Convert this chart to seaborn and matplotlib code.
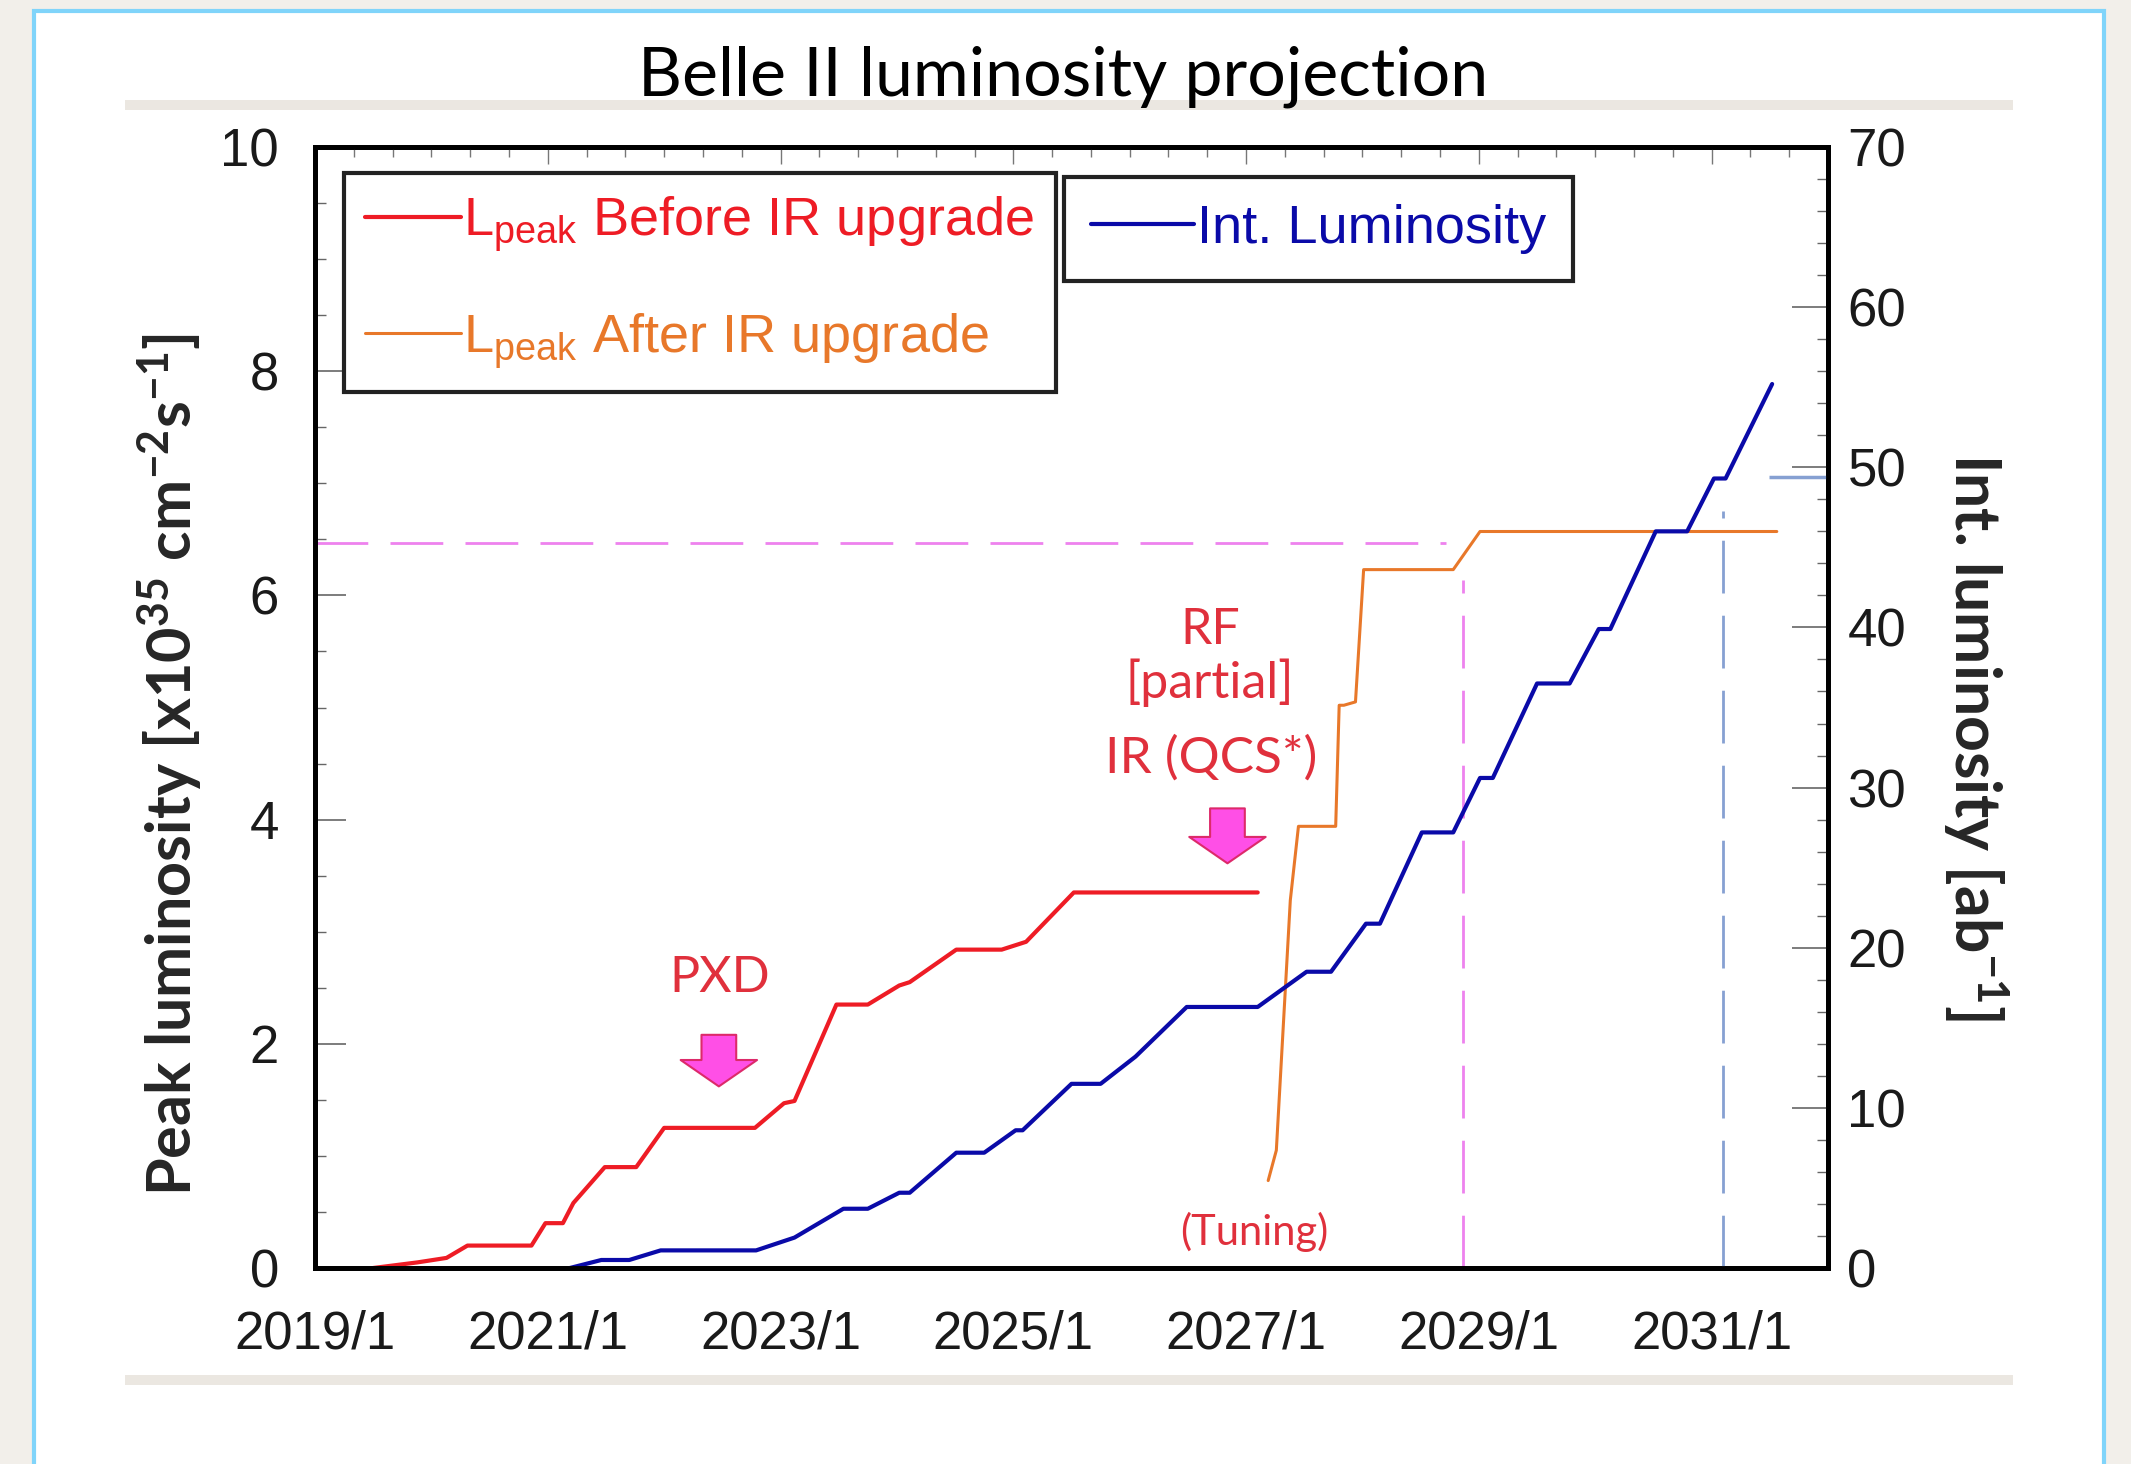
import matplotlib
matplotlib.use('Agg')
import matplotlib.pyplot as plt
import matplotlib.patches as mpatches
from matplotlib import font_manager
from matplotlib.ticker import MultipleLocator
import seaborn as sns

# L_peak before IR upgrade [x10^35 cm^-2 s^-1]
red_year = [2019.50, 2019.88, 2020.13, 2020.31, 2020.86, 2020.98, 2021.13, 2021.22,
            2021.49, 2021.76, 2022.00, 2022.78, 2023.03, 2023.12, 2023.48, 2023.75,
            2024.02, 2024.11, 2024.51, 2024.90, 2025.11, 2025.52, 2027.10]
red_lpeak = [0.00, 0.05, 0.09, 0.20, 0.20, 0.40, 0.40, 0.58,
             0.90, 0.90, 1.25, 1.25, 1.47, 1.49, 2.35, 2.35,
             2.52, 2.55, 2.84, 2.84, 2.91, 3.35, 3.35]

# L_peak after IR upgrade
orange_year = [2027.19, 2027.26, 2027.38, 2027.45, 2027.77, 2027.80, 2027.84,
               2027.94, 2028.01, 2028.78, 2029.01, 2031.56]
orange_lpeak = [0.78, 1.05, 3.28, 3.94, 3.94, 5.02, 5.02,
                5.05, 6.23, 6.23, 6.57, 6.57]

# integrated luminosity [ab^-1] (right axis)
blue_year = [2021.19, 2021.46, 2021.70, 2021.97, 2022.79, 2023.12, 2023.54, 2023.75,
             2024.02, 2024.11, 2024.51, 2024.75, 2025.02, 2025.08, 2025.50, 2025.75,
             2026.05, 2026.49, 2027.10, 2027.52, 2027.73, 2028.03, 2028.15, 2028.51,
             2028.78, 2029.01, 2029.12, 2029.50, 2029.78, 2030.03, 2030.13, 2030.52,
             2030.79, 2031.02, 2031.12, 2031.52]
blue_int = [0.0, 0.5, 0.5, 1.1, 1.1, 1.9, 3.7, 3.7,
            4.7, 4.7, 7.2, 7.2, 8.6, 8.6, 11.5, 11.5,
            13.2, 16.3, 16.3, 18.5, 18.5, 21.5, 21.5, 27.2,
            27.2, 30.6, 30.6, 36.5, 36.5, 39.9, 39.9, 46.0,
            46.0, 49.3, 49.3, 55.2]

# guide lines
pink_level = 6.47        # target peak luminosity
pink_level_end = 2028.72
pink_year = 2028.86
pink_year_top = 6.14
grey_year = 2031.10      # 50 ab^-1 reached
grey_year_top = 47.3
grey_level = 49.4
grey_level_start = 2031.49

# annotations (year, value on left axis)
pxd_text = (2022.48, 2.59)
pxd_arrow = (2022.47, 2.08, 1.62)
ir_arrow = (2026.84, 4.10, 3.61)
rf_text = (2026.69, 5.69)
rf_sub_text = (2026.69, 5.22)
ir_text = (2026.70, 4.55)
tuning_text = (2027.07, 0.32)

x_ticks = [2019, 2021, 2023, 2025, 2027, 2029, 2031]
x_labels = [f'{y}/1' for y in x_ticks]
left_ticks = [0, 2, 4, 6, 8, 10]
right_ticks = [0, 10, 20, 30, 40, 50, 60, 70]

RED = '#ee1c25'
ORANGE = '#e8782a'
BLUE = '#0a0aa8'
NOTE_RED = '#e0303c'
PINK = '#ee82ee'
GREYBLUE = '#86a0d2'

sns.set_style('white')
names = {f.name for f in font_manager.fontManager.ttflist}
if 'Liberation Sans Narrow' in names:
    tick_font, tick_size, leg_size = 'Liberation Sans Narrow', 44, 44
else:
    tick_font, tick_size, leg_size = 'Liberation Sans', 38, 39
plt.rcParams['font.family'] = [tick_font, 'DejaVu Sans']
plt.rcParams['mathtext.default'] = 'regular'

W, H = 2131, 1464
fig = plt.figure(figsize=(W / 100, H / 100), dpi=100)
fig.patch.set_facecolor('#f2efea')

# slide frame and separator bars
fig.add_artist(mpatches.Rectangle((34 / W, -0.02), (2104 - 34) / W, 1 - 11 / H + 0.02,
                                  transform=fig.transFigure, facecolor='white',
                                  edgecolor='#80d4fa', linewidth=3, zorder=-10))
for ytop in (100, 1375):
    fig.add_artist(mpatches.Rectangle((125 / W, 1 - (ytop + 10) / H), (2013 - 125) / W, 10 / H,
                                      transform=fig.transFigure, facecolor='#ebe7e1',
                                      edgecolor='none', zorder=-9))

fig.text(1063 / W, 1 - 95 / H, 'Belle II luminosity projection', ha='center', va='baseline',
         fontsize=49, family='Lato', color='black')

ax = fig.add_axes([315 / W, 1 - 1268 / H, (1828 - 315) / W, (1268 - 147) / H])
ax2 = ax.twinx()
ax2.patch.set_visible(False)

sns.lineplot(x=red_year, y=red_lpeak, ax=ax, color=RED, linewidth=3,
             estimator=None, sort=False)
red_line = ax.lines[-1]
sns.lineplot(x=orange_year, y=orange_lpeak, ax=ax, color=ORANGE, linewidth=2.2,
             estimator=None, sort=False)
orange_line = ax.lines[-1]
sns.lineplot(x=blue_year, y=blue_int, ax=ax2, color=BLUE, linewidth=3,
             estimator=None, sort=False)
blue_line = ax2.lines[-1]

dash = (19, 8)
ax.hlines(pink_level, 2019, pink_level_end, color=PINK, linewidth=2, linestyles=[(0, dash)])
ax.vlines(pink_year, 0, pink_year_top, color=PINK, linewidth=2, linestyles=[(0, dash)])
ax2.vlines(grey_year, 0, grey_year_top, color=GREYBLUE, linewidth=2, linestyles=[(0, dash)])
ax2.hlines(grey_level, grey_level_start, 2032, color=GREYBLUE, linewidth=2.5)

# axes ranges and ticks
ax.set_xlim(2019, 2032)
ax.set_ylim(0, 10)
ax2.set_ylim(0, 70)
ax.set_xticks(x_ticks)
ax.set_xticklabels(x_labels)
ax.set_yticks(left_ticks)
ax2.set_yticks(right_ticks)
ax.xaxis.set_minor_locator(MultipleLocator(1 / 3))
ax.yaxis.set_minor_locator(MultipleLocator(0.5))
ax2.yaxis.set_minor_locator(MultipleLocator(2))

ax.tick_params(axis='x', which='major', direction='in', length=36, width=1, color='#888888',
               top=False, pad=30, labelsize=tick_size, labelcolor='#1a1a1a')
ax.tick_params(axis='x', which='minor', direction='in', length=8, width=1, color='#666666', top=False)
ax.tick_params(axis='y', which='major', direction='in', length=22, width=1.2, color='#666666',
               pad=26, labelsize=tick_size, labelcolor='#1a1a1a')
ax.tick_params(axis='y', which='minor', direction='in', length=8, width=1, color='#666666')
ax2.tick_params(axis='y', which='major', direction='in', length=26, width=1.2, color='#666666',
                pad=14, labelsize=tick_size, labelcolor='#1a1a1a')
ax2.tick_params(axis='y', which='minor', direction='in', length=8, width=1, color='#666666')
# short ticks along the top edge
ax2.xaxis.set_visible(True)
ax2.tick_params(axis='x', which='both', bottom=False, top=True, labelbottom=False,
                labeltop=False, direction='in', width=1, color='#777777')
ax2.tick_params(axis='x', which='major', length=12)
ax2.tick_params(axis='x', which='minor', length=7)

for a in (ax, ax2):
    for sp in a.spines.values():
        sp.set_linewidth(3.5)
        sp.set_color('black')

ax.set_ylabel(r'Peak luminosity [x10$^{35}$ cm$^{-2}$s$^{-1}$]', family='Lato',
              fontweight='bold', fontsize=44)
ax.yaxis.set_label_coords(-0.073, 0.449)
ax2.set_ylabel(r'Int. luminosity [ab$^{-1}$]', family='Lato', fontweight='bold',
               fontsize=45, rotation=-90, va='bottom')
ax2.yaxis.set_label_coords(1.075, 0.474)

# notes and arrows
note = dict(color=NOTE_RED, family='Lato', ha='center', va='center')
ax.text(*pxd_text, 'PXD', fontsize=36, **note)
ax.text(*rf_text, 'RF', fontsize=36, **note)
ax.text(*rf_sub_text, '[partial]', fontsize=36, **note)
ax.text(*ir_text, 'IR (QCS*)', fontsize=37, **note)
ax.text(*tuning_text, '(Tuning)', fontsize=30, **note)

arrow_style = mpatches.ArrowStyle.Simple(head_length=19, head_width=55, tail_width=25)
for xa, ytop, ytip in (pxd_arrow, ir_arrow):
    ax.annotate('', xy=(xa, ytip), xytext=(xa, ytop),
                arrowprops=dict(arrowstyle=arrow_style, mutation_scale=1, shrinkA=0, shrinkB=0,
                                facecolor='#ff4fe6', edgecolor='#dd2a6a', linewidth=1.5))

# legends
leg_kw = dict(loc='upper left', borderaxespad=0, frameon=True, fancybox=False,
              edgecolor='#222222', framealpha=1, prop=dict(family=tick_font, size=leg_size),
              handletextpad=0.05, labelcolor='linecolor')
leg1 = ax2.legend(handles=[red_line, orange_line],
                  labels=[r'L$_{peak}$ Before IR upgrade', r'L$_{peak}$ After IR upgrade'],
                  bbox_to_anchor=(0.019, 0.977), handlelength=1.76, labelspacing=1.05,
                  borderpad=0.4, **leg_kw)
leg1.get_frame().set_linewidth(3)
ax2.add_artist(leg1)
leg2 = ax2.legend(handles=[blue_line], labels=['Int. Luminosity'],
                  bbox_to_anchor=(0.495, 0.973), handlelength=1.9, borderpad=0.5, **leg_kw)
leg2.get_frame().set_linewidth(3)
if ax.get_legend() is not None:
    ax.get_legend().remove()

fig.savefig('out.png', dpi=100, facecolor=fig.get_facecolor())
